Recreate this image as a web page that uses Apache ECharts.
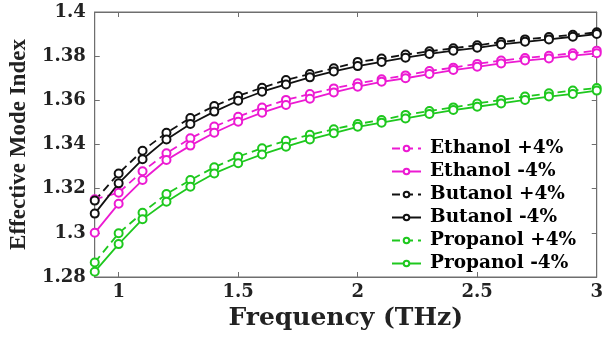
<!DOCTYPE html>
<html>
<head>
<meta charset="utf-8">
<script src="https://cdn.jsdelivr.net/npm/echarts@6/dist/echarts.min.js"></script>
<style>
  html, body { margin: 0; padding: 0; background: #fff; }
  #chart { width: 606px; height: 338px; }
</style>
</head>
<body>
<div id="chart"></div>
<script>
// frequency points (THz)
var freq = [0.9, 1.0, 1.1, 1.2, 1.3, 1.4, 1.5, 1.6, 1.7, 1.8, 1.9,
            2.0, 2.1, 2.2, 2.3, 2.4, 2.5, 2.6, 2.7, 2.8, 2.9, 3.0];

var ethanolPlus  = [1.3152, 1.3182, 1.3279, 1.3360, 1.3428, 1.3481, 1.3526, 1.3567, 1.3602, 1.3629, 1.3654,
                    1.3677, 1.3695, 1.3713, 1.3733, 1.3748, 1.3765, 1.3780, 1.3792, 1.3802, 1.3813, 1.3825];
var ethanolMinus = [1.3000, 1.3132, 1.3239, 1.3330, 1.3395, 1.3453, 1.3503, 1.3544, 1.3579, 1.3607, 1.3636,
                    1.3662, 1.3684, 1.3700, 1.3719, 1.3737, 1.3752, 1.3767, 1.3780, 1.3790, 1.3802, 1.3813];
var butanolPlus  = [1.3146, 1.3269, 1.3372, 1.3453, 1.3520, 1.3574, 1.3620, 1.3657, 1.3692, 1.3719, 1.3745,
                    1.3774, 1.3789, 1.3807, 1.3822, 1.3836, 1.3849, 1.3864, 1.3876, 1.3887, 1.3897, 1.3908];
var butanolMinus = [1.3087, 1.3224, 1.3333, 1.3423, 1.3493, 1.3549, 1.3598, 1.3639, 1.3672, 1.3704, 1.3731,
                    1.3755, 1.3774, 1.3793, 1.3810, 1.3825, 1.3838, 1.3853, 1.3865, 1.3876, 1.3888, 1.3900];
var propanolPlus = [1.2866, 1.2998, 1.3091, 1.3176, 1.3239, 1.3297, 1.3345, 1.3383, 1.3417, 1.3444, 1.3469,
                    1.3493, 1.3511, 1.3534, 1.3552, 1.3568, 1.3586, 1.3602, 1.3617, 1.3632, 1.3644, 1.3656];
var propanolMinus= [1.2824, 1.2949, 1.3062, 1.3141, 1.3209, 1.3269, 1.3315, 1.3355, 1.3390, 1.3423, 1.3451,
                    1.3480, 1.3499, 1.3518, 1.3538, 1.3556, 1.3571, 1.3586, 1.3602, 1.3617, 1.3629, 1.3644];

var xTicks = [1, 1.5, 2, 2.5, 3];
var seriesNames = ['Ethanol +4%', 'Ethanol -4%', 'Butanol +4%', 'Butanol -4%', 'Propanol +4%', 'Propanol -4%'];

var MAGENTA = '#ec1ad2';
var BLACK = '#111111';
var GREEN = '#1ec81e';
var AXIS = '#6e6e6e';

function pairs(ys) {
    var res = [];
    for (var i = 0; i < freq.length; i++) {
        res.push([freq[i], ys[i]]);
    }
    return res;
}

function makeSeries(name, ys, color, dashed) {
    return {
        name: name,
        type: 'line',
        data: pairs(ys),
        symbol: 'emptyCircle',
        symbolSize: 8,
        showAllSymbol: true,
        itemStyle: { color: color, borderWidth: 1.5 },
        lineStyle: { color: color, width: 1.8, type: dashed ? [8, 5] : 'solid' },
        animation: false
    };
}

var chart = echarts.init(document.getElementById('chart'));

var option = {
    backgroundColor: '#ffffff',
    animation: false,
    grid: {
        left: 92,
        right: 4,
        top: 12,
        bottom: 61,
        show: true,
        borderColor: AXIS,
        borderWidth: 1
    },
    legend: {
        data: seriesNames,
        orient: 'vertical',
        left: 386,
        top: 134,
        itemWidth: 29,
        itemHeight: 7,
        itemGap: 4,
        textStyle: {
            fontFamily: 'DejaVu Serif',
            fontWeight: 'bold',
            fontSize: 18.5,
            color: '#000',
            padding: [0, 0, 0, 4]
        }
    },
    xAxis: [
        {
            type: 'value',
            min: 0.9,
            max: 3,
            name: 'Frequency (THz)',
            nameLocation: 'middle',
            nameGap: 27,
            nameTextStyle: {
                fontFamily: 'DejaVu Serif',
                fontWeight: 'bold',
                fontSize: 25,
                color: '#222'
            },
            axisLine: { show: true, lineStyle: { color: AXIS } },
            axisTick: { show: true, inside: true, length: 5, customValues: xTicks, lineStyle: { color: AXIS } },
            axisLabel: {
                customValues: xTicks,
                margin: 6,
                fontFamily: 'DejaVu Serif',
                fontWeight: 'bold',
                fontSize: 18,
                color: '#222'
            },
            splitLine: { show: false }
        },
        {
            type: 'value',
            position: 'top',
            min: 0.9,
            max: 3,
            axisLine: { show: true, lineStyle: { color: AXIS } },
            axisTick: { show: true, inside: true, length: 5, customValues: xTicks, lineStyle: { color: AXIS } },
            axisLabel: { show: false },
            splitLine: { show: false }
        }
    ],
    yAxis: [
        {
            type: 'value',
            min: 1.28,
            max: 1.4,
            interval: 0.02,
            name: 'Effective Mode Index',
            nameLocation: 'middle',
            nameGap: 61,
            nameTextStyle: {
                fontFamily: 'Liberation Serif',
                fontWeight: 'bold',
                fontSize: 23,
                color: '#222'
            },
            axisLine: { show: true, lineStyle: { color: AXIS } },
            axisTick: { show: true, inside: true, length: 5, lineStyle: { color: AXIS } },
            axisLabel: {
                margin: 9,
                fontFamily: 'DejaVu Serif',
                fontWeight: 'bold',
                fontSize: 18,
                color: '#222',
                formatter: function (v) { return String(Math.round(v * 100) / 100); }
            },
            splitLine: { show: false }
        },
        {
            type: 'value',
            position: 'right',
            min: 1.28,
            max: 1.4,
            interval: 0.02,
            axisLine: { show: true, lineStyle: { color: AXIS } },
            axisTick: { show: true, inside: true, length: 5, lineStyle: { color: AXIS } },
            axisLabel: { show: false },
            splitLine: { show: false }
        }
    ],
    series: [
        makeSeries('Ethanol +4%', ethanolPlus, MAGENTA, true),
        makeSeries('Ethanol -4%', ethanolMinus, MAGENTA, false),
        makeSeries('Butanol +4%', butanolPlus, BLACK, true),
        makeSeries('Butanol -4%', butanolMinus, BLACK, false),
        makeSeries('Propanol +4%', propanolPlus, GREEN, true),
        makeSeries('Propanol -4%', propanolMinus, GREEN, false)
    ]
};

chart.setOption(option);
</script>
</body>
</html>
